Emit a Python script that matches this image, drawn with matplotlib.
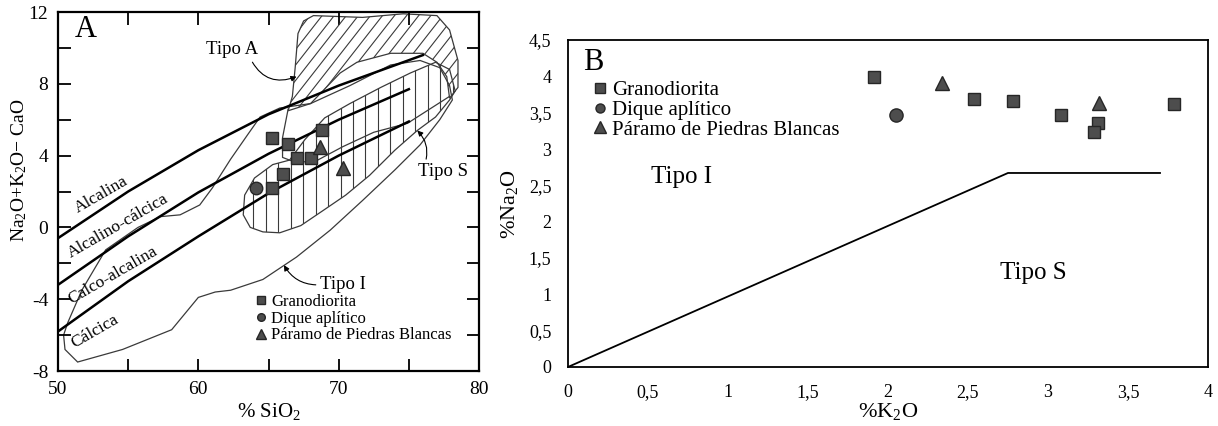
import numpy as np
import matplotlib.pyplot as plt
from matplotlib.patches import Polygon
from matplotlib.collections import LineCollection
from matplotlib.lines import Line2D
from matplotlib.ticker import FuncFormatter

plt.rcParams['font.family'] = ['Liberation Serif', 'DejaVu Serif']
plt.rcParams['mathtext.fontset'] = 'custom'
plt.rcParams['mathtext.rm'] = 'Liberation Serif'
plt.rcParams['mathtext.default'] = 'regular'
plt.rcParams['axes.unicode_minus'] = False

# ---------------- Panel A data (MALI vs SiO2) ----------------
alk_sio2 = [50, 55, 60, 65, 70, 76]
alk_mali = [-0.6, 2.0, 4.3, 6.3, 7.9, 9.6]
acal_sio2 = [50, 55, 60, 65, 70, 75]
acal_mali = [-3.2, -0.5, 1.95, 4.1, 6.0, 7.7]
calc_sio2 = [50, 55, 60, 65, 70, 75]
calc_mali = [-5.8, -3.0, -0.5, 1.9, 4.0, 5.9]

# Tipo A field (hatched part)
a_sio2 = [68.2, 71.7, 74.6, 77.0, 77.9, 78.5, 78.5, 77.9, 77.7, 77.0, 76.0, 73.7,
          71.3, 70.1, 68.0, 66.4, 66.7, 66.9, 67.1, 67.5]
a_mali = [11.8, 11.7, 11.9, 11.8, 11.0, 9.3, 7.8, 7.2, 8.4, 9.2, 9.7, 9.7,
          9.2, 8.6, 6.9, 6.5, 7.3, 8.9, 10.8, 11.5]
# lower boundary of Tipo A
a_low_sio2 = [66.4, 66.0, 66.0, 67.0, 68.5, 70.3, 72.5, 74.9, 77.9]
a_low_mali = [6.6, 5.0, 3.9, 3.6, 3.75, 4.5, 5.3, 5.8, 7.3]

# Tipo S field
s_sio2 = [63.2, 63.3, 64.0, 65.3, 66.5, 67.6, 69.0, 70.8, 73.0, 75.1, 76.9, 77.9,
          78.3, 77.9, 76.9, 75.6, 74.0, 72.2, 70.5, 69.0, 67.3, 65.8, 64.6, 63.7]
s_mali = [0.7, 1.8, 2.75, 3.5, 3.75, 4.9, 6.1, 6.9, 7.8, 8.6, 9.2, 8.8,
          7.6, 7.1, 6.15, 5.4, 4.3, 2.9, 1.8, 1.0, 0.1, -0.3, -0.25, 0.0]

# Tipo I field
i_sio2 = [51.4, 54.6, 58.1, 60.0, 61.2, 62.3, 64.6, 67.0, 69.4, 71.7, 74.0, 75.8,
          77.2, 78.1, 77.9, 77.2, 75.8, 73.7, 70.8, 68.0, 65.8, 64.4, 63.5, 62.3,
          61.0, 60.1, 58.7, 57.3, 55.7, 53.4, 51.7, 50.7, 50.4, 50.5]
i_mali = [-7.5, -6.8, -5.7, -3.9, -3.6, -3.5, -2.9, -1.65, -0.15, 1.5, 3.2, 4.6,
          6.0, 7.1, 7.9, 8.9, 9.3, 9.05, 7.9, 6.9, 6.65, 6.15, 5.15, 3.8,
          2.2, 1.25, 0.7, 0.6, 0.0, -1.25, -3.5, -5.3, -6.0, -6.8]

grano_sio2 = [65.25, 66.4, 67.0, 68.0, 68.8, 66.0, 65.25]
grano_mali = [5.0, 4.65, 3.85, 3.85, 5.4, 3.0, 2.2]
dique_sio2 = [64.1]
dique_mali = [2.2]
paramo_sio2 = [68.7, 70.3]
paramo_mali = [4.5, 3.3]

# ---------------- Panel B data (Na2O vs K2O) ----------------
limit_k2o = [0, 2.75, 3.7]
limit_na2o = [0, 2.67, 2.67]
grano_k2o = [1.91, 2.54, 2.78, 3.08, 3.31, 3.29, 3.79]
grano_na2o = [3.99, 3.69, 3.66, 3.47, 3.36, 3.23, 3.62]
dique_k2o = [2.05]
dique_na2o = [3.47]
paramo_k2o = [2.34, 3.32]
paramo_na2o = [3.91, 3.63]

labels = ["Granodiorita", "Dique aplítico", "Páramo de Piedras Blancas"]
fc = '#4d4d4d'
ec = '#262626'

fig = plt.figure(figsize=(12.18, 4.26), dpi=100)
axA = fig.add_axes([0.0476, 0.1291, 0.3457, 0.8427])
axB = fig.add_axes([0.4663, 0.1385, 0.5255, 0.7676])

# ---- Panel A ----
axA.set_xlim(50, 80)
axA.set_ylim(-8, 12)
thin = dict(color='#3a3a3a', lw=0.9)

pa = Polygon(np.column_stack([a_sio2, a_mali]), closed=True, fill=False, edgecolor='#3a3a3a', lw=0.9)
axA.add_patch(pa)
cs = np.arange(-72.5, -53, 0.86)
segs = [[(60, 60 + c), (80, 80 + c)] for c in cs]
lc = LineCollection(segs, colors='#3a3a3a', linewidths=0.8)
axA.add_collection(lc)
lc.set_clip_path(pa)
axA.plot(a_low_sio2, a_low_mali, **thin)

ps = Polygon(np.column_stack([s_sio2, s_mali]), closed=True, fill=False, edgecolor='#3a3a3a', lw=0.9)
axA.add_patch(ps)
vl = axA.vlines(np.arange(63.9, 78.5, 0.89), -8, 12, colors='#3a3a3a', linewidths=0.8)
vl.set_clip_path(ps)

pi = Polygon(np.column_stack([i_sio2, i_mali]), closed=True, fill=False, edgecolor='#3a3a3a', lw=0.9)
axA.add_patch(pi)

axA.plot(alk_sio2, alk_mali, color='k', lw=1.8)
axA.plot(acal_sio2, acal_mali, color='k', lw=1.8)
axA.plot(calc_sio2, calc_mali, color='k', lw=1.8)

axA.plot(grano_sio2, grano_mali, 's', ms=8.5, mfc=fc, mec=ec, mew=1, ls='none')
axA.plot(dique_sio2, dique_mali, 'o', ms=9, mfc=fc, mec=ec, mew=1, ls='none')
axA.plot(paramo_sio2, paramo_mali, '^', ms=9.5, mfc=fc, mec=ec, mew=1, ls='none')

lab = dict(fontsize=12.5, rotation=30, rotation_mode='anchor', ha='center', va='center')
axA.text(53.1, 1.8, "Alcalina", **lab)
axA.text(54.3, 0.1, "Alcalino-cálcica", **lab)
axA.text(53.9, -2.65, "Calco-alcalina", **lab)
axA.text(52.6, -5.8, "Cálcica", **lab)

arr = dict(arrowstyle='-|>', color='k', lw=0.8, mutation_scale=8, shrinkA=1, shrinkB=0)
axA.annotate("Tipo A", xy=(67.0, 8.4), xytext=(62.4, 9.9), fontsize=13.5, ha='center', va='center',
             arrowprops=dict(connectionstyle='arc3,rad=0.45', relpos=(0.85, 0.0), **arr))
axA.annotate("Tipo S", xy=(75.6, 5.4), xytext=(77.4, 3.1), fontsize=13.5, ha='center', va='center',
             arrowprops=dict(connectionstyle='arc3,rad=0.3', relpos=(0.15, 1.0), **arr))
axA.annotate("Tipo I", xy=(66.1, -2.1), xytext=(70.3, -3.2), fontsize=13.5, ha='center', va='center',
             arrowprops=dict(connectionstyle='arc3,rad=-0.3', relpos=(0.0, 0.5), **arr))

axA.text(0.067, 0.95, "A", transform=axA.transAxes, fontsize=22, ha='center', va='center')

axA.set_xticks([50, 60, 70, 80])
axA.set_xticks([55, 65, 75], minor=True)
axA.set_yticks([-8, -4, 0, 4, 8, 12])
axA.set_yticks([-6, -2, 2, 6, 10], minor=True)
axA.tick_params(which='both', direction='in', length=9, width=1.3, top=True, right=True,
                labelsize=14, pad=7)
for sp in axA.spines.values():
    sp.set_linewidth(1.6)
axA.set_xlabel("% SiO$_2$", fontsize=15, labelpad=2)
axA.set_ylabel("Na$_2$O+K$_2$O− CaO", fontsize=14)
axA.yaxis.set_label_coords(-0.068, 0.56)

hA = [Line2D([], [], marker=m, ls='none', mfc=fc, mec=ec, ms=s) for m, s in [('s', 5.5), ('o', 5.5), ('^', 6.5)]]
axA.legend(hA, labels, loc='upper left', bbox_to_anchor=(0.47, 0.215), frameon=False, fontsize=12,
           handlelength=0.6, handletextpad=0.3, labelspacing=0.05, borderpad=0, borderaxespad=0)

# ---- Panel B ----
axB.set_xlim(0, 4)
axB.set_ylim(0, 4.5)
axB.plot(limit_k2o, limit_na2o, color='k', lw=1.3)
axB.plot(grano_k2o, grano_na2o, 's', ms=8.5, mfc=fc, mec=ec, mew=1, ls='none', clip_on=False)
axB.plot(dique_k2o, dique_na2o, 'o', ms=9.5, mfc=fc, mec=ec, mew=1, ls='none')
axB.plot(paramo_k2o, paramo_na2o, '^', ms=10.5, mfc=fc, mec=ec, mew=1, ls='none')

axB.text(0.71, 2.61, "Tipo I", fontsize=18, ha='center', va='center')
axB.text(2.91, 1.29, "Tipo S", fontsize=18, ha='center', va='center')
axB.text(0.039, 0.93, "B", transform=axB.transAxes, fontsize=22, ha='center', va='center')

comma = FuncFormatter(lambda v, p: f"{v:g}".replace('.', ','))
axB.set_xticks([0, 0.5, 1, 1.5, 2, 2.5, 3, 3.5, 4])
axB.set_yticks([0, 0.5, 1, 1.5, 2, 2.5, 3, 3.5, 4, 4.5])
axB.xaxis.set_major_formatter(comma)
axB.yaxis.set_major_formatter(comma)
axB.tick_params(length=0, labelsize=13, pad=12)
for sp in axB.spines.values():
    sp.set_linewidth(1.3)
axB.set_xlabel("%K$_2$O", fontsize=16, labelpad=0)
axB.set_ylabel("%Na$_2$O", fontsize=16, labelpad=6)

hB = [Line2D([], [], marker=m, ls='none', mfc=fc, mec=ec, ms=s) for m, s in [('s', 6.5), ('o', 6.5), ('^', 8)]]
axB.legend(hB, labels, loc='upper left', bbox_to_anchor=(0.04, 0.875), frameon=False, fontsize=15,
           handlelength=0.6, handletextpad=0.3, labelspacing=0.0, borderpad=0, borderaxespad=0)

fig.savefig("out.png", dpi=100, facecolor='white')
